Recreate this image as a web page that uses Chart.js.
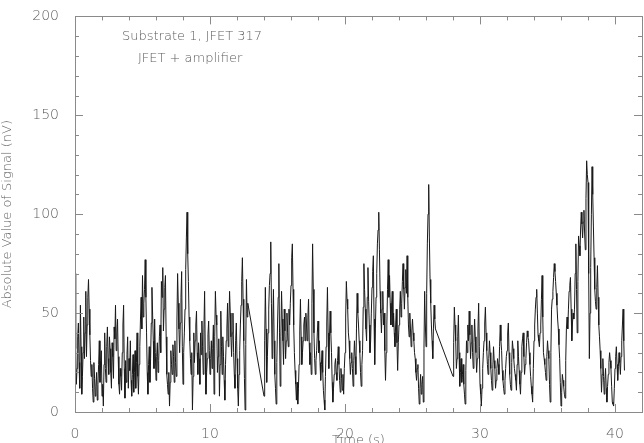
<!DOCTYPE html>
<html>
<head>
<meta charset="utf-8">
<script src="https://cdn.jsdelivr.net/npm/chart.js@4/dist/chart.umd.min.js"></script>
<style>
  html, body { margin: 0; padding: 0; background: #fff; }
</style>
</head>
<body>
<canvas id="chart" width="644" height="443"></canvas>
<script>
// Messreihen: drei Abschnitte, 20 Werte pro Sekunde
// (Hauptwerte auf vollen Zehntelsekunden, Zwischenwerte jeweils 0.05 s später)
const sampleStep = 0.1
const seg1Start = 0.0
const seg1 = [
  70, 14, 38, 25, 54, 9, 30, 27, 61, 44,
  67, 39, 18, 12, 25, 8, 20, 14, 36, 26,
  8, 3, 40, 15, 43, 19, 32, 12, 28, 43,
  54, 40, 28, 9, 18, 30, 54, 7, 15, 38,
  27, 36, 8, 29, 20, 12, 40, 9, 33, 58,
  69, 55, 77, 40, 9, 33, 27, 63, 36, 47,
  16, 35, 26, 44, 66, 73, 52, 69, 19, 9,
  3, 31, 19, 28, 36, 18, 70, 42, 45, 71,
  14, 40, 72, 101, 66, 36, 19, 1, 40, 36,
  51, 19, 27, 40, 46, 19, 61, 9, 27, 46,
  19, 36, 32, 9, 61, 44, 28, 8, 51, 19,
  28, 6, 36, 55, 44, 50, 28, 50, 19, 36,
  27, 3, 31, 54, 78, 36, 1, 67, 55
]
const seg1Mid = [
  32, 22, 45, 12, 33, 18, 48, 40, 28, 58,
  52, 26, 24, 5, 17, 13, 6, 24, 15, 31,
  14, 24, 22, 33, 27, 38, 20, 35, 17, 37,
  31, 47, 14, 22, 11, 44, 22, 26, 29, 12,
  21, 16, 19, 10, 31, 25, 18, 24, 47, 42,
  48, 62, 58, 20, 24, 15, 45, 49, 22, 30,
  28, 20, 38, 30, 58, 41, 63, 38, 14, 20,
  15, 24, 34, 15, 25, 46, 55, 30, 58, 33,
  30, 52, 88, 80, 48, 27, 30, 18, 25, 44,
  30, 35, 14, 29, 33, 42, 30, 20, 39, 31,
  27, 22, 44, 38, 49, 20, 37, 24, 33, 38,
  16, 24, 42, 33, 61, 38, 40, 30, 12, 45,
  12, 19, 44, 66, 57, 17, 34, 48
]
const seg2Start = 14.0
const seg2 = [
  8, 63, 15, 40, 64, 86, 27, 62, 19, 4,
  44, 75, 13, 61, 36, 52, 27, 50, 33, 44,
  64, 85, 44, 21, 6, 4, 24, 57, 24, 36,
  48, 50, 36, 57, 24, 19, 85, 40, 19, 31,
  46, 36, 16, 31, 11, 1, 33, 63, 22, 51,
  30, 5, 19, 27, 16, 33, 16, 22, 11, 9,
  30, 66, 52, 36, 19, 30, 13, 36, 19, 60,
  44, 30, 13, 31, 75, 52, 36, 73, 44, 36,
  63, 79, 24, 58, 85, 101, 61, 40, 61, 50,
  16, 44, 77, 69, 44, 61, 50, 33, 52, 21,
  44, 61, 55, 75, 52, 72, 79, 44, 50, 33,
  47, 36, 27, 16, 24, 4, 19, 14, 5, 61,
  33, 85, 115, 67, 44, 27, 54, 42
]
const seg2Mid = [
  36, 42, 28, 52, 70, 55, 45, 36, 12, 25,
  58, 40, 38, 47, 24, 41, 36, 40, 52, 55,
  78, 62, 30, 14, 15, 12, 41, 38, 30, 44,
  36, 44, 48, 35, 30, 55, 62, 27, 26, 40,
  30, 25, 24, 20, 6, 18, 45, 40, 38, 40,
  15, 12, 24, 20, 26, 24, 10, 17, 19, 22,
  48, 57, 40, 27, 25, 22, 26, 28, 42, 50,
  36, 20, 24, 53, 62, 42, 58, 56, 30, 50,
  71, 47, 42, 70, 92, 82, 50, 52, 44, 31,
  30, 62, 58, 55, 54, 43, 40, 44, 35, 35,
  52, 48, 66, 62, 63, 60, 58, 38, 42, 41,
  40, 30, 20, 22, 12, 12, 9, 18, 32, 45,
  60, 100, 88, 55, 36, 42, 47
]
const seg3Start = 28.0
const seg3 = [
  18, 53, 36, 27, 49, 13, 27, 19, 14, 4,
  36, 44, 51, 27, 44, 22, 47, 30, 27, 55,
  14, 3, 22, 36, 53, 31, 19, 36, 22, 11,
  33, 22, 16, 27, 19, 44, 31, 16, 9, 22,
  31, 45, 19, 11, 36, 27, 19, 11, 36, 21,
  9, 33, 40, 19, 27, 41, 36, 24, 13, 5,
  36, 52, 62, 39, 33, 44, 69, 30, 24, 16,
  36, 27, 5, 52, 61, 75, 66, 54, 42, 27,
  3, 19, 13, 7, 42, 42, 61, 68, 36, 50,
  52, 85, 40, 89, 79, 101, 88, 102, 82, 127,
  116, 27, 73, 124, 94, 62, 52, 74, 44, 31,
  10, 27, 9, 22, 5, 19, 30, 22, 5, 3,
  22, 33, 16, 30, 19, 36, 52, 21
]
const seg3Mid = [
  35, 44, 22, 38, 30, 20, 15, 24, 9, 21,
  30, 36, 39, 35, 30, 35, 38, 20, 42, 33,
  9, 12, 30, 45, 40, 24, 27, 30, 16, 22,
  26, 12, 22, 24, 33, 36, 21, 12, 16, 28,
  40, 30, 14, 25, 32, 22, 16, 24, 28, 14,
  20, 37, 28, 24, 35, 38, 30, 18, 9, 22,
  44, 58, 50, 36, 40, 57, 48, 27, 20, 28,
  31, 14, 30, 57, 68, 71, 60, 47, 34, 15,
  10, 16, 9, 26, 48, 52, 64, 52, 45, 47,
  70, 62, 66, 84, 92, 95, 96, 90, 108, 120,
  70, 50, 100, 110, 78, 56, 63, 58, 38, 22,
  19, 18, 16, 12, 13, 25, 26, 13, 4, 12,
  28, 24, 23, 25, 28, 44, 36
]

// Achsen
const xMajor = [0, 10, 20, 30, 40]
const xMinor = [2, 4, 6, 8, 12, 14, 16, 18, 22, 24, 26, 28, 32, 34, 36, 38, 42]
const yMajor = [0, 50, 100, 150, 200]
const yMinor = [10, 20, 30, 40, 60, 70, 80, 90, 110, 120, 130, 140, 160, 170, 180, 190]

const axisGray = '#8a8a8a'
const textGray = '#5e5e5e'
const fontFamily = '"DejaVu Sans", sans-serif'

// Hauptwerte und Zwischenwerte abwechselnd zu Punkten zusammenfügen
function toPoints(start, values, mids) {
  const pts = []
  values.forEach((v, i) => {
    pts.push({ x: +(start + i * sampleStep).toFixed(3), y: v })
    if (i < mids.length) {
      pts.push({ x: +(start + (i + 0.5) * sampleStep).toFixed(3), y: mids[i] })
    }
  })
  return pts
}

const points = [
  ...toPoints(seg1Start, seg1, seg1Mid),
  ...toPoints(seg2Start, seg2, seg2Mid),
  ...toPoints(seg3Start, seg3, seg3Mid)
]

// Rahmen, nach innen zeigende Ticks und Beschriftungen
const framePlugin = {
  id: 'frame',
  afterDraw(chart) {
    const { ctx, chartArea: a, scales } = chart
    const x = scales.x, y = scales.y
    ctx.save()
    ctx.strokeStyle = axisGray
    ctx.lineWidth = 1
    ctx.strokeRect(Math.round(a.left) + 0.5, Math.round(a.top) + 0.5,
      Math.round(a.right - a.left), Math.round(a.bottom - a.top))

    ctx.beginPath()
    const xTick = (v, len) => {
      const px = Math.round(x.getPixelForValue(v)) + 0.5
      ctx.moveTo(px, a.bottom); ctx.lineTo(px, a.bottom - len)
      ctx.moveTo(px, a.top); ctx.lineTo(px, a.top + len)
    }
    const yTick = (v, len) => {
      const py = Math.round(y.getPixelForValue(v)) + 0.5
      ctx.moveTo(a.left, py); ctx.lineTo(a.left + len, py)
      ctx.moveTo(a.right, py); ctx.lineTo(a.right - len, py)
    }
    xMajor.forEach(v => xTick(v, 8))
    xMinor.forEach(v => xTick(v, 4))
    yMajor.forEach(v => yTick(v, 8))
    yMinor.forEach(v => yTick(v, 4))
    ctx.stroke()

    ctx.fillStyle = textGray
    ctx.font = '200 13px ' + fontFamily
    ctx.textBaseline = 'middle'
    ctx.textAlign = 'left'
    ctx.fillText('Substrate 1, JFET 317', 122, 37)
    ctx.fillText('JFET + amplifier', 138, 59)

    ctx.textAlign = 'center'
    ctx.fillText('Time (s)', (a.left + a.right) / 2, 441)

    ctx.translate(8, (a.top + a.bottom) / 2)
    ctx.rotate(-Math.PI / 2)
    ctx.fillText('Absolute Value of Signal (nV)', 0, 0)
    ctx.restore()
  }
}

new Chart(document.getElementById('chart'), {
  type: 'line',
  data: {
    datasets: [{
      data: points,
      borderColor: '#1a1a1a',
      borderWidth: 1,
      pointRadius: 0,
      tension: 0
    }]
  },
  options: {
    responsive: false,
    animation: false,
    layout: { padding: { top: 10, right: 2, left: 0, bottom: 0 } },
    plugins: { legend: { display: false }, tooltip: { enabled: false } },
    scales: {
      x: {
        type: 'linear',
        min: 0,
        max: 42,
        grid: { display: false },
        border: { display: false },
        afterBuildTicks: s => { s.ticks = xMajor.map(v => ({ value: v })) },
        afterFit: s => { s.height = 31 },
        ticks: { color: textGray, font: { family: fontFamily, size: 14, weight: '200' }, padding: 6, maxRotation: 0 }
      },
      y: {
        min: 0,
        max: 200,
        grid: { display: false },
        border: { display: false },
        afterBuildTicks: s => { s.ticks = yMajor.map(v => ({ value: v })) },
        afterFit: s => { s.width = 75 },
        ticks: { color: textGray, font: { family: fontFamily, size: 14, weight: '200' }, padding: 8 }
      }
    }
  },
  plugins: [framePlugin]
})
</script>
</body>
</html>
